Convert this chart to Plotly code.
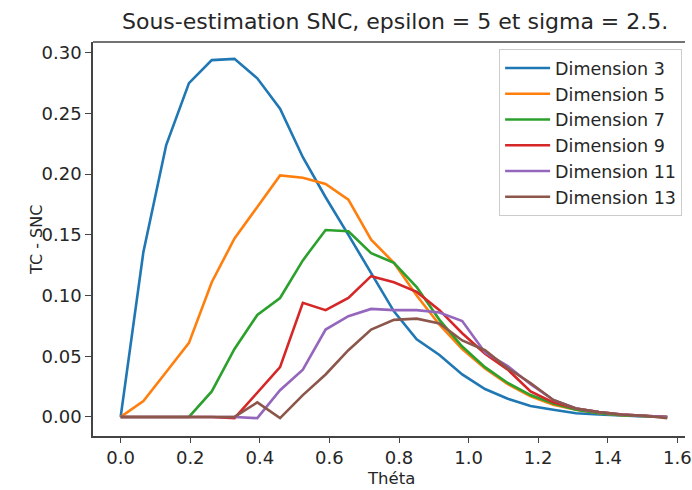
import plotly.graph_objects as go

theta = [0.0, 0.0654, 0.1309, 0.1963, 0.2618, 0.3272, 0.3927, 0.4581, 0.5236,
         0.5890, 0.6545, 0.7199, 0.7854, 0.8508, 0.9163, 0.9817, 1.0472, 1.1126,
         1.1781, 1.2435, 1.3090, 1.3744, 1.4399, 1.5053, 1.5708]

dim3 = [0.0, 0.136, 0.224, 0.275, 0.294, 0.295, 0.279, 0.254, 0.214, 0.181,
        0.150, 0.118, 0.087, 0.064, 0.051, 0.035, 0.023, 0.015, 0.009, 0.006,
        0.003, 0.002, 0.001, 0.0005, 0.0]
dim5 = [0.0, 0.013, 0.037, 0.061, 0.111, 0.147, 0.173, 0.199, 0.197, 0.192,
        0.179, 0.146, 0.127, 0.100, 0.076, 0.056, 0.040, 0.027, 0.017, 0.010,
        0.006, 0.003, 0.0015, 0.0005, 0.0]
dim7 = [0.0, 0.0, 0.0, 0.0, 0.021, 0.056, 0.084, 0.098, 0.129, 0.154,
        0.153, 0.135, 0.127, 0.107, 0.080, 0.058, 0.041, 0.028, 0.018, 0.011,
        0.006, 0.003, 0.0015, 0.0005, 0.0]
dim9 = [0.0, 0.0, 0.0, 0.0, 0.0, -0.001, 0.020, 0.041, 0.094, 0.088,
        0.098, 0.116, 0.111, 0.103, 0.088, 0.069, 0.052, 0.039, 0.021, 0.012,
        0.007, 0.004, 0.002, 0.001, 0.0]
dim11 = [0.0, 0.0, 0.0, 0.0, 0.0, 0.0, -0.001, 0.022, 0.039, 0.072,
         0.083, 0.089, 0.088, 0.088, 0.086, 0.079, 0.053, 0.042, 0.027, 0.014,
         0.007, 0.004, 0.002, 0.001, 0.0]
dim13 = [0.0, 0.0, 0.0, 0.0, 0.0, 0.0, 0.012, -0.001, 0.018, 0.035,
         0.055, 0.072, 0.080, 0.081, 0.077, 0.063, 0.055, 0.040, 0.028, 0.014,
         0.007, 0.004, 0.002, 0.001, -0.001]

series = [("Dimension 3", dim3), ("Dimension 5", dim5), ("Dimension 7", dim7),
          ("Dimension 9", dim9), ("Dimension 11", dim11), ("Dimension 13", dim13)]
colors = ["#1f77b4", "#ff7f0e", "#2ca02c", "#d62728", "#9467bd", "#8c564b"]

x_ticks = [0.0, 0.2, 0.4, 0.6, 0.8, 1.0, 1.2, 1.4, 1.6]
y_ticks = [0.0, 0.05, 0.10, 0.15, 0.20, 0.25, 0.30]

FONT = "DejaVu Sans"
TXT = "#262626"
AX = "#444444"

fig = go.Figure()
for (name, vals), c in zip(series, colors):
    fig.add_trace(go.Scatter(x=theta, y=vals, mode="lines", name=name,
                             line=dict(color=c, width=2.6)))

fig.update_layout(
    width=692, height=490,
    margin=dict(l=93, r=0, t=42, b=54),
    plot_bgcolor="white", paper_bgcolor="white",
    font=dict(family=FONT, size=18, color=TXT),
    title=dict(text="Sous-estimation SNC, epsilon = 5 et sigma = 2.5.",
               xref="container", x=0.571, xanchor="center",
               yref="container", y=1 - 21 / 490, yanchor="middle",
               font=dict(family=FONT, size=22, color=TXT)),
    showlegend=True,
    legend=dict(x=0.686, y=0.982, xanchor="left", yanchor="top",
                bgcolor="rgba(255,255,255,0.85)", bordercolor="#cccccc",
                borderwidth=1, font=dict(family=FONT, size=17.5, color=TXT),
                itemwidth=45),
)
fig.update_xaxes(range=[-0.0795, 1.622], tickvals=x_ticks, tickformat=".1f",
                 showgrid=False, zeroline=False, showline=True, linecolor=AX,
                 linewidth=1.6, ticks="outside", ticklen=5, tickwidth=1.4,
                 tickcolor=AX, tickfont=dict(size=18, color=TXT),
                 ticklabeloverflow="allow")
fig.update_yaxes(range=[-0.0157, 0.3089], tickvals=y_ticks, tickformat=".2f",
                 showgrid=False, zeroline=False, showline=True, linecolor=AX,
                 linewidth=1.6, ticks="outside", ticklen=6, tickwidth=1.4,
                 tickcolor=AX, tickfont=dict(size=18, color=TXT))
fig.add_shape(type="line", xref="paper", yref="paper", x0=0, x1=1, y0=1, y1=1,
              line=dict(color=AX, width=1.6))
fig.add_annotation(text="Théta", xref="paper", yref="paper", x=0.504, y=-0.108,
                   xanchor="center", yanchor="middle", showarrow=False,
                   font=dict(family=FONT, size=16.5, color=TXT))
fig.add_annotation(text="TC - SNC", xref="paper", yref="paper", x=-0.0968, y=0.497,
                   xanchor="center", yanchor="middle", showarrow=False, textangle=-90,
                   font=dict(family=FONT, size=16, color=TXT))

fig.write_html("out.html")
